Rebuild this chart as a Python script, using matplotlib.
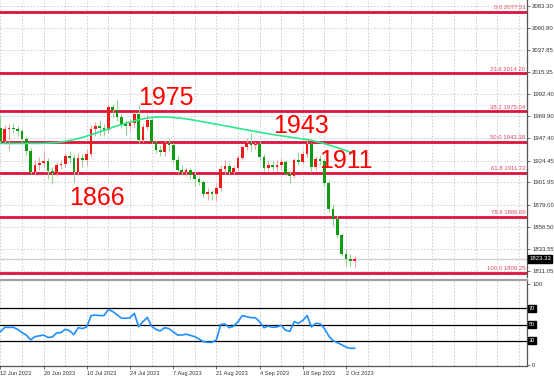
#!/usr/bin/env python3
"""Gold daily chart with fibonacci levels, moving average and RSI panel."""

import matplotlib
matplotlib.use('Agg')
import matplotlib.pyplot as plt
import numpy as np

# daily candles, Jun - Oct 2023
opens = [1950, 1958, 1945, 1957, 1958, 1957, 1955, 1947, 1934, 1913,
         1920, 1922, 1924, 1914, 1912, 1920, 1921, 1929, 1927, 1913,
         1927, 1925, 1931, 1957, 1960, 1958, 1956, 1979, 1976, 1969,
         1962, 1960, 1963, 1972, 1946, 1959, 1966, 1944, 1935, 1933,
         1943, 1940, 1925, 1915, 1913, 1915, 1910, 1906, 1902, 1890,
         1892, 1890, 1896, 1916, 1919, 1913, 1917, 1927, 1938, 1943,
         1940, 1941, 1928, 1917, 1920, 1918, 1920, 1923, 1911, 1909,
         1925, 1923, 1931, 1941, 1918, 1926, 1924, 1901, 1875, 1864,
         1848, 1828, 1823, 1821]
highs = [1962, 1971, 1961, 1962, 1963, 1960, 1957, 1950, 1937, 1925,
         1928, 1934, 1927, 1918, 1922, 1925, 1932, 1934, 1930, 1932,
         1931, 1936, 1961, 1964, 1966, 1962, 1983, 1983, 1987, 1972,
         1966, 1967, 1974, 1982, 1962, 1972, 1970, 1946, 1940, 1946,
         1948, 1942, 1929, 1920, 1918, 1917, 1914, 1909, 1904, 1896,
         1894, 1900, 1920, 1925, 1922, 1920, 1930, 1940, 1948, 1953,
         1944, 1945, 1931, 1924, 1924, 1925, 1927, 1925, 1914, 1927,
         1933, 1934, 1947, 1943, 1929, 1930, 1926, 1904, 1880, 1868,
         1850, 1834, 1828, 1826]
lows = [1945, 1943, 1942, 1935, 1953, 1950, 1944, 1930, 1911, 1910,
        1915, 1918, 1906, 1900, 1909, 1916, 1918, 1922, 1902, 1910,
        1918, 1920, 1929, 1950, 1950, 1950, 1954, 1968, 1965, 1958,
        1951, 1955, 1958, 1942, 1944, 1956, 1942, 1932, 1929, 1929,
        1934, 1922, 1912, 1910, 1909, 1906, 1898, 1899, 1887, 1884,
        1884, 1883, 1893, 1911, 1910, 1911, 1914, 1925, 1935, 1933,
        1936, 1925, 1914, 1914, 1915, 1914, 1916, 1909, 1901, 1907,
        1920, 1921, 1928, 1913, 1915, 1920, 1898, 1872, 1857, 1845,
        1826, 1816, 1816, 1815]
closes = [1958, 1945, 1957, 1958, 1957, 1955, 1947, 1934, 1913, 1920,
          1922, 1924, 1914, 1912, 1920, 1921, 1929, 1927, 1913, 1927,
          1925, 1931, 1957, 1960, 1958, 1956, 1979, 1976, 1969, 1962,
          1960, 1963, 1972, 1946, 1959, 1966, 1944, 1935, 1933, 1943,
          1940, 1925, 1915, 1913, 1915, 1910, 1906, 1902, 1890, 1892,
          1890, 1896, 1916, 1919, 1913, 1917, 1927, 1938, 1943, 1940,
          1941, 1928, 1917, 1920, 1918, 1920, 1923, 1911, 1909, 1925,
          1923, 1931, 1941, 1918, 1926, 1924, 1901, 1875, 1864, 1848,
          1828, 1823, 1821, 1823.33]

# moving average as drawn on the chart
ma_line = [1942.0, 1942.0, 1942.0, 1942.0, 1942.0, 1942.0, 1942.0, 1942.0, 1942.1, 1942.1,
           1942.1, 1942.2, 1942.4, 1942.7, 1943.0, 1943.4, 1944.2, 1945.1, 1946.0, 1947.0,
           1948.3, 1949.6, 1951.0, 1952.5, 1954.0, 1955.5, 1957.0, 1958.6, 1960.1, 1961.5,
           1962.8, 1964.0, 1965.2, 1966.4, 1967.3, 1968.1, 1968.8, 1969.1, 1969.2, 1969.2,
           1969.0, 1968.7, 1968.3, 1967.8, 1967.3, 1966.6, 1965.8, 1965.0, 1964.2, 1963.4,
           1962.6, 1961.8, 1961.0, 1960.2, 1959.4, 1958.5, 1957.6, 1956.8, 1956.0, 1955.2,
           1954.4, 1953.6, 1952.8, 1952.0, 1951.2, 1950.5, 1949.9, 1949.3, 1948.6, 1947.9,
           1947.3, 1946.6, 1946.0, 1945.3, 1944.2, 1943.0, 1941.8, 1940.5, 1939.2, 1937.7,
           1936.2, 1934.7, 1933.1, 1931.5]

rsi = [45, 41, 46.5, 46.5, 46.5, 44, 40, 37, 31, 35,
       36, 37, 34, 34.5, 39.5, 40, 44, 42.4, 37.5, 46,
       45, 47, 61, 61.7, 61, 61, 68.7, 66, 62, 58,
       57.6, 58.4, 63.8, 47.3, 53.5, 58.8, 48, 44, 42, 46,
       45, 41, 37, 37, 38, 36.5, 35, 32, 28.8, 28,
       28, 31, 50, 50.5, 46, 48, 53.5, 61, 59.7, 58.4,
       58.4, 53.5, 46, 48, 46.5, 47, 49, 43, 41.5, 53.5,
       51.5, 55, 61, 47, 51.4, 51, 45, 36, 30, 27.6,
       25, 22, 20.6, 20.6]

fib_pct = ['0.0', '23.6', '38.2', '50.0', '61.8', '78.6', '100.0']
fib_price = [2077.51, 2014.20, 1975.04, 1943.38, 1911.72, 1866.66, 1809.25]
price_ticks = [2083.30, 2060.80, 2037.85, 2015.35, 1992.40, 1969.90, 1947.40,
               1924.45, 1901.95, 1879.00, 1856.50, 1833.55, 1811.05]
rsi_levels = [70, 50, 30]
date_labels = ['12 Jun 2023', '26 Jun 2023', '10 Jul 2023', '24 Jul 2023', '7 Aug 2023',
               '21 Aug 2023', '4 Sep 2023', '18 Sep 2023', '2 Oct 2023']
notes = ['1975', '1943', '1911', '1866']
last_price = 1823.33

BODY_UP, WICK_UP = '#f01a1a', '#f3a0a0'
BODY_DN, WICK_DN = '#129a12', '#94d494'
FIB_COL = '#dc143c'
GRID_COL = '#c9c9c9'
AX_COL = '#555555'

plt.rcParams['font.family'] = ['Liberation Sans', 'DejaVu Sans']

W, H = 554, 378
fig = plt.figure(figsize=(W / 100, H / 100), dpi=100)
ax = fig.add_axes([0, 1 - 277 / H, 527 / W, 277 / H])
ax_rsi = fig.add_axes([0, 1 - 366 / H, 527 / W, 86 / H])

x = np.arange(len(closes))
o = np.array(opens, dtype=float)
c = np.array(closes, dtype=float)
hi = np.array(highs, dtype=float)
lo = np.array(lows, dtype=float)
up = c >= o
dn = ~up

x_lim = (0.907, 122.9)
grid_x = np.arange(1, 123, 5)

# ###############################
# price panel
# ###############################
for p in price_ticks:
    ax.axhline(p, color=GRID_COL, lw=0.6, ls=(0, (2, 2)), zorder=0)
for gx in grid_x:
    ax.axvline(gx, color=GRID_COL, lw=0.6, ls=(0, (2, 2)), zorder=0)

ax.axhline(last_price, color='#cfcfcf', lw=1.0, zorder=1)

for pct, p in zip(fib_pct, fib_price):
    ax.axhline(p, color=FIB_COL, lw=2.0, zorder=2)
    ax.annotate(f'{pct} {p:.2f}', xy=(1, p), xycoords=('axes fraction', 'data'),
                xytext=(-1, 1.2), textcoords='offset points', ha='right', va='bottom',
                fontsize=4.3, color='#e04a64')

ax.vlines(x[up], lo[up], hi[up], color=WICK_UP, lw=0.75, zorder=3)
ax.vlines(x[dn], lo[dn], hi[dn], color=WICK_DN, lw=0.75, zorder=3)
body = c - o
body = np.where(np.abs(body) < 0.8, np.where(body < 0, -0.8, 0.8), body)
ax.bar(x[up], body[up], bottom=o[up], width=0.62, color=BODY_UP, linewidth=0, zorder=4)
ax.bar(x[dn], body[dn], bottom=o[dn], width=0.62, color=BODY_DN, linewidth=0, zorder=4)

ax.plot(x, ma_line, color='#2ee88c', lw=1.2, zorder=5)

note_pos = [(39.4, 1981.5), (70.5, 1952.8), (80.9, 1916.8), (23.3, 1878.8)]
for txt, (nx, ny) in zip(notes, note_pos):
    ax.text(nx, ny, txt, fontsize=18, color='#ff0000', ha='center', va='baseline', zorder=6)

ax.set_xlim(*x_lim)
ax.set_ylim(1804.78, 2089.47)
ax.yaxis.tick_right()
ax.set_yticks(price_ticks)
ax.set_yticklabels([f'{p:.2f}' for p in price_ticks])
ax.tick_params(axis='y', length=2.5, width=0.6, pad=1.2, labelsize=4.3,
               colors=AX_COL, labelcolor='#333333')
ax.set_xticks([])
for s in ['top', 'left', 'bottom']:
    ax.spines[s].set_visible(False)
ax.spines['right'].set_color(AX_COL)
ax.spines['right'].set_linewidth(0.9)

ax.text(1.004, last_price, f'{last_price:.2f}', transform=ax.get_yaxis_transform(),
        fontsize=4.3, color='white', ha='left', va='center',
        bbox=dict(boxstyle='square,pad=0.2', fc='black', ec='black'))

# ###############################
# RSI panel
# ###############################
for gx in grid_x:
    ax_rsi.axvline(gx, color=GRID_COL, lw=0.6, ls=(0, (2, 2)), zorder=0)
for lv in rsi_levels:
    ax_rsi.axhline(lv, color='black', lw=0.9, zorder=1)
    ax_rsi.text(1.003, lv, str(lv), transform=ax_rsi.get_yaxis_transform(),
                fontsize=4.0, color='white', ha='left', va='center',
                bbox=dict(boxstyle='square,pad=0.15', fc='black', ec='black'))
ax_rsi.plot(x, rsi, color='#1e8fff', lw=1.2, zorder=2)

ax_rsi.set_xlim(*x_lim)
ax_rsi.set_ylim(-1.23, 104.94)
ax_rsi.yaxis.tick_right()
ax_rsi.set_yticks([0, 100])
ax_rsi.set_yticklabels(['0', '100'])
ax_rsi.tick_params(axis='y', length=2.5, width=0.6, pad=1.2, labelsize=4.3,
                   colors=AX_COL, labelcolor='#333333')
ax_rsi.set_xticks(np.arange(1, 90, 10))
ax_rsi.set_xticklabels(date_labels, ha='left')
ax_rsi.tick_params(axis='x', length=2, width=0.6, pad=1.5, labelsize=4.1,
                   colors=AX_COL, labelcolor='#333333')
ax_rsi.spines['left'].set_visible(False)
ax_rsi.spines['top'].set_color('#a0a0a0')
ax_rsi.spines['top'].set_linewidth(1.6)
ax_rsi.spines['right'].set_color(AX_COL)
ax_rsi.spines['right'].set_linewidth(0.9)
ax_rsi.spines['bottom'].set_color(AX_COL)
ax_rsi.spines['bottom'].set_linewidth(0.9)

plt.savefig('out.png', dpi=100)
